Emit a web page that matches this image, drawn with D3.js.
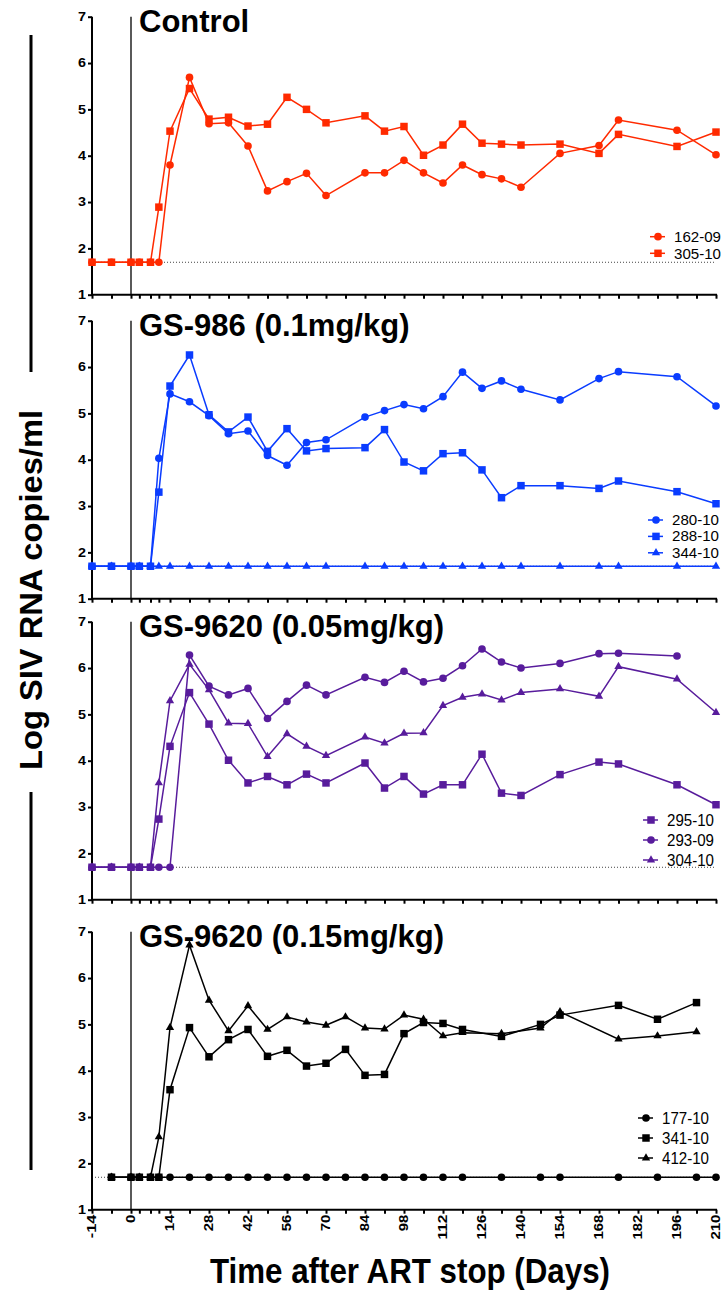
<!DOCTYPE html>
<html>
<head>
<meta charset="utf-8">
<script src="https://cdn.jsdelivr.net/npm/d3@7"></script>
<style>
  body { margin: 0; background: #fff; }
  svg { display: block; font-family: "Liberation Sans", Arial, sans-serif; }
</style>
</head>
<body>
<script>
// days sampled after ART stop, per panel
var daysA = [-14, -7, 0, 3, 7, 10, 14, 21, 28, 35, 42, 49, 56, 63, 70, 84, 91, 98, 105, 112, 119, 126, 133, 140, 154, 168, 175, 196, 210];
var daysD = [-7, 0, 3, 7, 10, 14, 21, 28, 35, 42, 49, 56, 63, 70, 77, 84, 91, 98, 105, 112, 119, 133, 147, 154, 175, 189, 203, 210];

// Control
var v162_09 = [1.7, 1.7, 1.7, 1.7, 1.7, 1.7, 3.80, 5.69, 4.69, 4.71, 4.21, 3.24, 3.44, 3.62, 3.14, 3.63, 3.63, 3.90, 3.63, 3.41, 3.80, 3.59, 3.50, 3.32, 4.05, 4.22, 4.77, 4.55, 4.02];
var v305_10 = [1.7, 1.7, 1.7, 1.7, 1.7, 2.89, 4.53, 5.45, 4.79, 4.83, 4.64, 4.68, 5.26, 5.00, 4.71, 4.86, 4.53, 4.63, 4.01, 4.23, 4.68, 4.27, 4.25, 4.23, 4.25, 4.05, 4.46, 4.20, 4.51];

// GS-986 (0.1mg/kg)
var v280_10 = [1.7, 1.7, 1.7, 1.7, 1.7, 4.03, 5.42, 5.25, 4.95, 4.56, 4.62, 4.09, 3.88, 4.37, 4.43, 4.92, 5.06, 5.19, 5.10, 5.36, 5.89, 5.54, 5.70, 5.52, 5.29, 5.75, 5.90, 5.79, 5.16];
var v288_10 = [1.7, 1.7, 1.7, 1.7, 1.7, 3.30, 5.59, 6.26, 4.97, 4.60, 4.92, 4.18, 4.67, 4.19, 4.24, 4.26, 4.65, 3.95, 3.76, 4.13, 4.15, 3.78, 3.18, 3.44, 3.44, 3.38, 3.54, 3.31, 3.05];
var v344_10 = [1.7, 1.7, 1.7, 1.7, 1.7, 1.7, 1.7, 1.7, 1.7, 1.7, 1.7, 1.7, 1.7, 1.7, 1.7, 1.7, 1.7, 1.7, 1.7, 1.7, 1.7, 1.7, 1.7, 1.7, 1.7, 1.7, 1.7, 1.7, 1.7];

// GS-9620 (0.05mg/kg)
var v295_10 = [1.7, 1.7, 1.7, 1.7, 1.7, 2.74, 4.31, 5.47, 4.79, 4.01, 3.52, 3.66, 3.48, 3.71, 3.52, 3.95, 3.41, 3.66, 3.28, 3.48, 3.48, 4.14, 3.30, 3.25, 3.70, 3.97, 3.93, 3.48, 3.05];
var v293_09 = [1.7, 1.7, 1.7, 1.7, 1.7, 1.7, 1.7, 6.28, 5.61, 5.42, 5.56, 4.91, 5.28, 5.63, 5.42, 5.80, 5.69, 5.93, 5.70, 5.78, 6.05, 6.41, 6.13, 6.00, 6.10, 6.31, 6.32, 6.26, null];
var v304_10 = [1.7, 1.7, 1.7, 1.7, 1.7, 3.52, 5.29, 6.08, 5.53, 4.81, 4.80, 4.09, 4.58, 4.31, 4.11, 4.51, 4.38, 4.59, 4.60, 5.19, 5.37, 5.44, 5.31, 5.47, 5.55, 5.39, 6.03, 5.76, 5.04];

// GS-9620 (0.15mg/kg)
var v177_10 = [1.7, 1.7, 1.7, 1.7, 1.7, 1.7, 1.7, 1.7, 1.7, 1.7, 1.7, 1.7, 1.7, 1.7, 1.7, 1.7, 1.7, 1.7, 1.7, 1.7, 1.7, 1.7, 1.7, 1.7, 1.7, 1.7, 1.7, 1.7];
var v341_10 = [1.7, 1.7, 1.7, 1.7, 1.7, 3.59, 4.93, 4.30, 4.67, 4.89, 4.31, 4.44, 4.10, 4.16, 4.46, 3.90, 3.92, 4.80, 5.04, 5.02, 4.89, 4.74, 5.00, 5.20, 5.41, 5.11, 5.47, null];
var v412_10 = [1.7, 1.7, 1.7, 1.7, 2.57, 4.93, 6.71, 5.52, 4.86, 5.40, 4.89, 5.16, 5.05, 4.98, 5.16, 4.92, 4.90, 5.20, 5.11, 4.75, 4.82, 4.80, 4.92, 5.27, 4.68, 4.75, 4.84, null];

var xTickDays = [-14, -7, 0, 3, 7, 10, 14, 21, 28, 35, 42, 49, 56, 63, 70, 77, 84, 91, 98, 105, 112, 119, 126, 133, 140, 147, 154, 161, 168, 175, 182, 189, 196, 203, 210];
var xLabelDays = [-14, 0, 14, 28, 42, 56, 70, 84, 98, 112, 126, 140, 154, 168, 182, 196, 210];
var yTicks = [1, 2, 3, 4, 5, 6, 7];
var detectionLimit = 1.7;

// panels: title, colour, series (drawn in order; legend in legend order)
var panels = [
  { title: "Control", color: "#ff2a00", days: daysA,
    series: [{ name: "162-09", shape: "circle", values: v162_09 },
             { name: "305-10", shape: "square", values: v305_10 }],
    legendOrder: [0, 1], legend: { x: 650, y: 220, step: 16.6 } },
  { title: "GS-986 (0.1mg/kg)", color: "#0a3cff", days: daysA,
    series: [{ name: "280-10", shape: "circle", values: v280_10 },
             { name: "288-10", shape: "square", values: v288_10 },
             { name: "344-10", shape: "triangle", values: v344_10 }],
    legendOrder: [0, 1, 2], legend: { x: 648, y: 199.3, step: 16.4 } },
  { title: "GS-9620 (0.05mg/kg)", color: "#581c9c", days: daysA,
    series: [{ name: "293-09", shape: "circle", values: v293_09 },
             { name: "304-10", shape: "triangle", values: v304_10 },
             { name: "295-10", shape: "square", values: v295_10 }],
    legendOrder: [2, 0, 1], legend: { x: 643, y: 198.3, step: 20 } },
  { title: "GS-9620 (0.15mg/kg)", color: "#000000", days: daysD,
    series: [{ name: "177-10", shape: "circle", values: v177_10 },
             { name: "412-10", shape: "triangle", values: v412_10 },
             { name: "341-10", shape: "square", values: v341_10 }],
    legendOrder: [0, 2, 1], legend: { x: 638, y: 186.3, step: 20 } }
];

var width = 727, height = 1290;
var panelTops = [16.7, 320.7, 621.7, 931.7];
var panelH = 278;
var x0 = 92, x1 = 716;

var svg = d3.select("body")
  .append("svg")
  .attr("width", width)
  .attr("height", height);

var x = d3.scaleLinear().domain([-14, 210]).range([x0, x1]);

var symbolType = { circle: d3.symbolCircle, square: d3.symbolSquare, triangle: d3.symbolTriangle };
var symbolSize = { circle: 46, square: 56, triangle: 30 };

function marker(sel, shape) {
  sel.attr("d", d3.symbol().type(symbolType[shape]).size(symbolSize[shape])());
}

panels.forEach(function (p, pi) {
  var top = panelTops[pi];
  var bottom = top + panelH;
  var y = d3.scaleLinear().domain([1, 7]).range([bottom, top]);
  var g = svg.append("g");

  // dotted detection limit
  g.append("line")
    .attr("x1", x(-14)).attr("x2", x(210))
    .attr("y1", y(detectionLimit)).attr("y2", y(detectionLimit))
    .attr("stroke", "#444").attr("stroke-width", 1)
    .attr("stroke-dasharray", "1,2");

  // ART stop line
  g.append("line")
    .attr("x1", x(0)).attr("x2", x(0))
    .attr("y1", top).attr("y2", bottom)
    .attr("stroke", "#000").attr("stroke-width", 1.3);

  // y axis
  var yAxis = g.append("g")
    .attr("transform", "translate(" + x0 + ",0)")
    .call(d3.axisLeft(y).tickValues(yTicks).tickSize(4).tickPadding(2).tickFormat(d3.format("d")));
  yAxis.select(".domain").attr("stroke-width", 2).attr("d", "M0," + (top) + "V" + (bottom + 1));
  yAxis.selectAll(".tick line").attr("stroke-width", 2);
  yAxis.selectAll(".tick text")
    .attr("font-size", 12).attr("font-weight", "bold").attr("fill", "#000")
    .attr("textLength", 8).attr("lengthAdjust", "spacingAndGlyphs");

  // x axis
  var xAxis = g.append("g")
    .attr("transform", "translate(0," + bottom + ")")
    .call(d3.axisBottom(x).tickValues(xTickDays).tickSize(4).tickFormat(""));
  xAxis.select(".domain").attr("stroke-width", 2).attr("d", "M" + (x0 - 1) + ",0H" + (x1 + 1));
  xAxis.selectAll(".tick line").attr("stroke-width", 2);

  if (pi == panels.length - 1) {
    g.selectAll(".xlab")
      .data(xLabelDays)
      .enter()
      .append("text")
      .attr("class", "xlab")
      .attr("transform", function (d) { return "translate(" + x(d) + "," + (bottom + 5) + ") rotate(-90)"; })
      .attr("text-anchor", "end")
      .attr("dominant-baseline", "central")
      .attr("font-size", 12).attr("font-weight", "bold")
      .attr("textLength", function (d) { var s = String(d); return s.replace("-", "").length * 8.3 + (d < 0 ? 7 : 0); })
      .attr("lengthAdjust", "spacingAndGlyphs")
      .text(function (d) { return d; });
  }

  // title
  g.append("text")
    .attr("x", 139).attr("y", top + 15)
    .attr("font-size", 31).attr("font-weight", "bold")
    .text(p.title);

  // lines and points
  var line = d3.line()
    .defined(function (d) { return d.v != null; })
    .x(function (d) { return x(d.day); })
    .y(function (d) { return y(d.v); });

  p.series.forEach(function (s) {
    var pts = p.days.map(function (d, i) { return { day: d, v: s.values[i] }; });
    g.append("path")
      .datum(pts)
      .attr("fill", "none")
      .attr("stroke", p.color)
      .attr("stroke-width", 1.5)
      .attr("d", line);
    g.selectAll(null)
      .data(pts.filter(function (d) { return d.v != null; }))
      .enter()
      .append("path")
      .call(marker, s.shape)
      .attr("transform", function (d) { return "translate(" + x(d.day) + "," + y(d.v) + ")"; })
      .attr("fill", p.color);
  });

  // legend (font kept small enough so rows don't collide)
  var legendFont = Math.min(17, p.legend.step - 1.6);
  p.legendOrder.forEach(function (si, k) {
    var s = p.series[si];
    var ly = top + p.legend.y + k * p.legend.step;
    g.append("line")
      .attr("x1", p.legend.x).attr("x2", p.legend.x + 15)
      .attr("y1", ly).attr("y2", ly)
      .attr("stroke", p.color).attr("stroke-width", 1.5);
    g.append("path")
      .call(marker, s.shape)
      .attr("transform", "translate(" + (p.legend.x + 8) + "," + ly + ")")
      .attr("fill", p.color);
    g.append("text")
      .attr("x", p.legend.x + 24).attr("y", ly)
      .attr("dominant-baseline", "central")
      .attr("font-size", legendFont)
      .attr("textLength", 47).attr("lengthAdjust", "spacingAndGlyphs")
      .text(s.name);
  });
});

// y axis title with bracket lines
svg.append("line").attr("x1", 31).attr("x2", 31).attr("y1", 35).attr("y2", 372)
  .attr("stroke", "#000").attr("stroke-width", 3);
svg.append("line").attr("x1", 31).attr("x2", 31).attr("y1", 792).attr("y2", 1170)
  .attr("stroke", "#000").attr("stroke-width", 3);
svg.append("text")
  .attr("transform", "translate(31,590) rotate(-90)")
  .attr("text-anchor", "middle")
  .attr("dominant-baseline", "central")
  .attr("font-size", 32).attr("font-weight", "bold")
  .attr("textLength", 360).attr("lengthAdjust", "spacingAndGlyphs")
  .text("Log SIV RNA copies/ml");

// x axis title
svg.append("text")
  .attr("x", 410).attr("y", 1283)
  .attr("text-anchor", "middle")
  .attr("font-size", 35).attr("font-weight", "bold")
  .attr("textLength", 400).attr("lengthAdjust", "spacingAndGlyphs")
  .text("Time after ART stop (Days)");
</script>
</body>
</html>
